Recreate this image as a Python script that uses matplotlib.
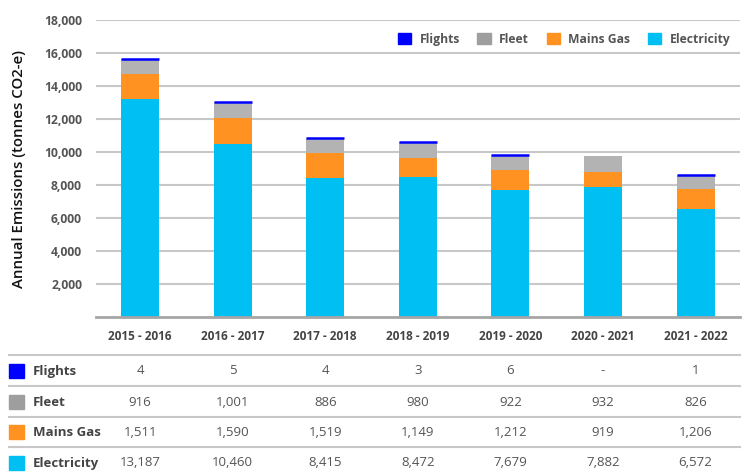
import matplotlib
matplotlib.use('Agg')
import matplotlib.pyplot as plt
from matplotlib.patches import Rectangle, Patch
from matplotlib.lines import Line2D
import matplotlib.transforms as mtransforms

plt.rcParams['font.family'] = ['Open Sans', 'DejaVu Sans']

years = ['2015 - 2016', '2016 - 2017', '2017 - 2018', '2018 - 2019',
         '2019 - 2020', '2020 - 2021', '2021 - 2022']
flights = [4, 5, 4, 3, 6, 0, 1]
fleet = [916, 1001, 886, 980, 922, 932, 826]
mains_gas = [1511, 1590, 1519, 1149, 1212, 919, 1206]
electricity = [13187, 10460, 8415, 8472, 7679, 7882, 6572]
flights_labels = ['4', '5', '4', '3', '6', '-', '1']

c_elec = '#00bff3'
c_gas = '#ff9220'
c_fleet = '#b3b3b3'
c_fleet_key = '#9e9e9e'
c_flights = '#0000ff'
txt = '#555555'

W, H = 747, 475
fig = plt.figure(figsize=(W / 100, H / 100), dpi=100)
ax = fig.add_axes([96 / W, 1 - 317 / H, (740 - 96) / W, (317 - 20) / H])

x = list(range(len(years)))
bw = 0.41
ax.bar(x, electricity, bw, color=c_elec, zorder=3)
b1 = [e + g for e, g in zip(electricity, mains_gas)]
ax.bar(x, mains_gas, bw, bottom=electricity, color=c_gas, zorder=3)
b2 = [b + f for b, f in zip(b1, fleet)]
ax.bar(x, fleet, bw, bottom=b1, color=c_fleet, zorder=3)
# flights are tiny, the original shows them as a thin strip on top
for xi, b, f in zip(x, b2, flights):
    if f > 0:
        ax.bar(xi, f, bw, bottom=b, color=c_flights, edgecolor=c_flights,
               linewidth=1.8, zorder=3)

ax.set_xlim(-0.476, 6.48)
ax.set_ylim(0, 18000)
ax.set_yticks(range(2000, 18001, 2000))
ax.set_yticklabels(['{:,}'.format(v) for v in range(2000, 18001, 2000)])
ax.tick_params(axis='y', length=0, pad=10, labelsize=8.7, labelcolor=txt)
for lab in ax.get_yticklabels():
    lab.set_fontweight('bold')
ax.set_xticks(x)
ax.set_xticklabels(years, fontsize=8.5, fontweight='bold', color='#444444')
ax.tick_params(axis='x', length=0, pad=9)
ax.grid(axis='y', color='#c8c8c8', linewidth=1.5, zorder=0)
for s in ['top', 'right', 'left']:
    ax.spines[s].set_visible(False)
ax.spines['bottom'].set_color('#a6a6a6')
ax.spines['bottom'].set_linewidth(2)
ax.spines['bottom'].set_zorder(4)

ax.set_ylabel('Annual Emissions (tonnes CO2-e)', fontsize=10.8, fontweight='semibold',
              color='#111111')
ax.yaxis.set_label_coords(-0.108, 0.5)

handles = [Patch(color=c_flights, label='Flights'), Patch(color=c_fleet_key, label='Fleet'),
           Patch(color=c_gas, label='Mains Gas'), Patch(color=c_elec, label='Electricity')]
leg = ax.legend(handles=handles, ncol=4, loc='upper right', bbox_to_anchor=(1.0, 0.99),
                frameon=True, facecolor='white', edgecolor='none', framealpha=1,
                fontsize=8.7, handlelength=1.1, handleheight=1.1, handletextpad=0.7,
                columnspacing=1.45, borderpad=0.3)
for t in leg.get_texts():
    t.set_color(txt)
    t.set_fontweight('bold')

# data table under the chart
tr = mtransforms.blended_transform_factory(ax.transData, fig.transFigure)
rows = [('Flights', c_flights, flights_labels),
        ('Fleet', c_fleet_key, ['{:,}'.format(v) for v in fleet]),
        ('Mains Gas', c_gas, ['{:,}'.format(v) for v in mains_gas]),
        ('Electricity', c_elec, ['{:,}'.format(v) for v in electricity])]
line_y = [355, 386, 417, 447]
text_y = [371, 402, 432, 463]
for ly in line_y:
    fig.add_artist(Line2D([9 / W, 740 / W], [1 - ly / H, 1 - ly / H],
                          color='#c8c8c8', linewidth=1.5))
for (name, col, vals), ty in zip(rows, text_y):
    fy = 1 - ty / H
    fig.add_artist(Rectangle((9 / W, fy - 7 / H), 15 / W, 14 / H, color=col))
    fig.text(33 / W, fy, name, fontsize=9.5, fontweight='bold', color='#444444',
             va='center', ha='left')
    for xi, v in zip(x, vals):
        ax.text(xi, fy, v, transform=tr, fontsize=9.5, color=txt,
                ha='center', va='center')

fig.savefig('out.png', dpi=100)
